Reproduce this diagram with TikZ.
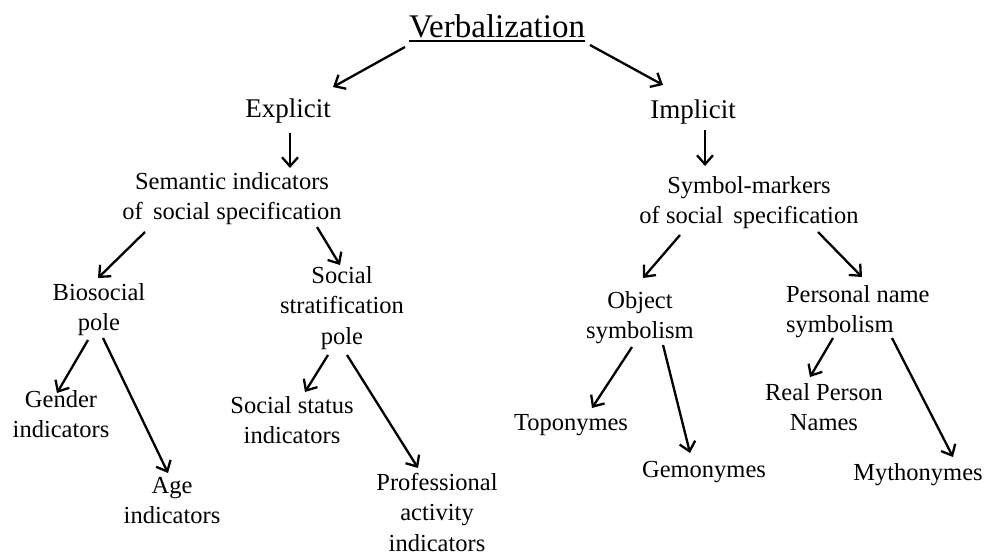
\documentclass[tikz,border=0pt]{standalone}
\usepackage{fontspec}
\setmainfont{Liberation Serif}
\usetikzlibrary{arrows.meta,calc}
\newcommand\mlc[1]{\begin{tabular}[t]{@{}c@{}}#1\end{tabular}}
\newcommand\mll[1]{\begin{tabular}[t]{@{}l@{}}#1\end{tabular}}
\begin{document}
\begin{tikzpicture}[x=1pt,y=-1pt,
  lbl/.style={inner sep=0pt,outer sep=0pt,anchor=base,font=\fontsize{24.5}{30.5}\selectfont},
  big/.style={inner sep=0pt,outer sep=0pt,anchor=base,font=\fontsize{27}{33}\selectfont},
  conn/.style={line width=2.3pt,-{Straight Barb[length=9pt,width=16pt,line width=2.3pt]}}]
\useasboundingbox[fill=white] (0,0) rectangle (985,555);
% nodes
\node[big,font=\fontsize{33}{38}\selectfont] (verb) at (497,37) {Verbalization};
\draw[line width=1.6pt] ([yshift=-4pt]verb.base west) -- ([yshift=-4pt]verb.base east);
\node[big] (expl) at (288,117) {Explicit};
\node[big] (impl) at (693,118) {Implicit};
\node[lbl] (sem) at (232,189) {\mlc{Semantic indicators\\of\, social specification}};
\node[lbl] (sym) at (749,193) {\mlc{Symbol-markers\\of social\, specification}};
\node[lbl] (bio) at (99,300) {\mlc{Biosocial\\pole}};
\node[lbl] (strat) at (342,283) {\mlc{Social\\stratification\\pole}};
\node[lbl] (gender) at (61,407) {\mlc{Gender\\indicators}};
\node[lbl] (age) at (172,493) {\mlc{Age\\indicators}};
\node[lbl] (status) at (292,413) {\mlc{Social status\\indicators}};
\node[lbl] (prof) at (437,490) {\mlc{Professional\\activity\\indicators}};
\node[lbl] (obj) at (640,308) {\mlc{Object\\symbolism}};
\node[lbl,anchor=base west] (pers) at (786,302) {\mll{Personal name\\symbolism}};
\node[lbl] (topo) at (571,430) {Toponymes};
\node[lbl] (gem) at (704,477) {Gemonymes};
\node[lbl] (real) at (824,400) {\mlc{Real Person\\Names}};
\node[lbl] (myth) at (918,480) {Mythonymes};
% connectors
\draw[conn] ($(verb.base)+(-92,10)$) -- ($(expl.base)+(45,-30)$);
\draw[conn] ($(verb.base)+(93,8)$) -- ($(impl.base)+(-30,-33)$);
\draw[conn] ($(expl.base)+(2,16)$) -- ($(sem.base)+(58,-21)$);
\draw[conn] ($(impl.base)+(12,12)$) -- ($(sym.base)+(-44,-27)$);
\draw[conn] ($(sem.base)+(-87,43)$) -- ($(bio.base)+(-1,-22)$);
\draw[conn] ($(sem.base)+(85,38)$) -- ($(strat.base)+(-2,-18)$);
\draw[conn] ($(bio.base)+(-11,40)$) -- ($(gender.base)+(-4,-14)$);
\draw[conn] ($(bio.base)+(4,38)$) -- ($(age.base)+(-4,-20)$);
\draw[conn] ($(strat.base)+(-14,72)$) -- ($(status.base)+(13,-21)$);
\draw[conn] ($(strat.base)+(5,72)$) -- ($(prof.base)+(-19,-22)$);
\draw[conn] ($(sym.base)+(-69,42)$) -- ($(obj.base)+(3,-30)$);
\draw[conn] ($(sym.base)+(69,39)$) -- ($(pers.base west)+(76,-25)$);
\draw[conn] ($(obj.base)+(-8,39)$) -- ($(topo.base)+(21,-22)$);
\draw[conn] ($(obj.base)+(23,37)$) -- ($(gem.base)+(-14,-24)$);
\draw[conn] ($(pers.base west)+(47,36)$) -- ($(real.base)+(-14,-23)$);
\draw[conn] ($(pers.base west)+(106,36)$) -- ($(myth.base)+(35,-23)$);
\end{tikzpicture}
\end{document}
